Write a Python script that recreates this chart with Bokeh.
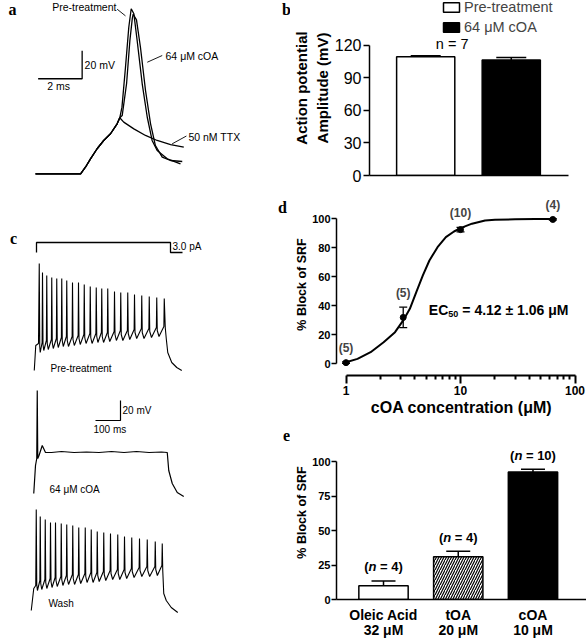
from bokeh.plotting import figure
from bokeh.models import (Range1d, Label, LabelSet, ColumnDataSource, Whisker, TeeHead,
                          FixedTicker, BasicTickFormatter, Legend, LegendItem)
from bokeh.layouts import row, column
from bokeh.embed import file_html
from bokeh.resources import INLINE
from bokeh.core.properties import value

SANS = "Liberation Sans"
SERIF = "Liberation Serif"

# ---------------------------------------------------------------- data
# (a) single action potentials: time (ms), membrane potential (mV)
ap_rise_t = [0.0, 2.05, 2.27, 2.50, 2.80, 3.10, 3.41, 3.71, 3.83]
ap_rise_v = [-65.0, -65.0, -60.3, -54.3, -47.1, -41.2, -36.4, -29.3, -25.0]
ap_pre_t = [3.93, 4.09, 4.24, 4.35, 4.47, 4.62, 4.85, 5.08, 5.30, 5.53, 5.99, 6.59]
ap_pre_v = [-17.4, 11.1, 39.7, 52.9, 49.3, 30.2, -0.7, -24.6, -41.2, -48.4, -54.3, -57.9]
ap_coa_t = [3.94, 4.14, 4.29, 4.40, 4.44, 4.59, 4.77, 5.00, 5.23, 5.45, 5.76, 6.14, 6.67]
ap_coa_v = [-23.4, -0.5, 30.2, 46.0, 49.0, 45.0, 25.4, -5.5, -29.3, -44.8, -53.1, -55.5, -56.2]
ap_ttx_t = [4.01, 4.47, 5.00, 5.53, 6.14, 6.74]
ap_ttx_v = [-28.1, -32.9, -37.6, -41.2, -44.1, -46.0]

# (b) action potential amplitude
b_groups = ["Pre-treatment", "64 μM cOA"]
b_amp = [109.5, 106.5]
b_sem = [1.0, 2.5]
b_ticks = [0, 30, 60, 90, 120]
b_n_text = "n = 7"

# (c) current step (pA) and voltage traces (mV) vs time (ms)
c_step_t = [0, 0, 536, 536, 584]
c_step_pa = [0, 3.0, 3.0, 0, 0]
c_pre_start_t = [-9, -7, -3, 8]
c_pre_start_v = [-68, -60, -43, -41]
c_pre_spike_t = [11, 24, 41, 61, 81, 101, 121, 144, 168, 191, 215, 239, 261, 285, 312,
                 337, 365, 392, 421, 451, 481, 511]
c_pre_spike_v = [39, 30, 27, 25, 24, 24, 22, 20, 20, 18, 16, 15, 14, 14, 11, 10, 10, 8,
                 7, 6, 5, 4]
c_pre_trough_v = [-50, -48, -47, -46, -45, -44, -44, -43, -42, -41, -41, -40, -40, -39,
                  -38, -38, -37, -36, -36, -35, -34]
c_pre_end_t = [515, 519, 525, 541, 561, 581]
c_pre_end_v = [-25, -36, -50, -60, -65, -68]
c_coa_t = [-11, -4, 1, 3, 5, 10, 23, 36, 60, 100, 150, 200, 250, 300, 350, 400, 450,
           500, 523, 529, 543, 563, 589]
c_coa_v = [-69, -41, -34, 34, -34, -31, -21, -28, -28, -27, -28, -27.5, -28, -27, -28,
           -27, -28, -27.5, -28, -46, -59, -68, -72]
c_wash_start_t = [-21, -11, -3]
c_wash_start_v = [-68, -46, -43]
c_wash_spike_t = [-1, 15, 35, 56, 76, 99, 121, 145, 169, 195, 219, 243, 269, 296, 325,
                  352, 381, 412, 443, 475, 503]
c_wash_spike_v = [33, 26, 23, 20, 20, 19, 18, 17, 15, 15, 13, 11, 10, 9, 8, 6, 5, 4, 3,
                  1, -1]
c_wash_trough_v = [-48, -47, -46, -45, -44, -43, -42, -42, -41, -40, -40, -39, -38, -37,
                   -37, -36, -35, -34, -34, -33]
c_wash_end_t = [505, 509, 519, 539, 565]
c_wash_end_v = [-28, -51, -58, -65, -70]

# (d) concentration-response
d_conc = [1.0, 3.16, 10.0, 64.0]
d_block = [0.8, 32.0, 92.5, 99.5]
d_sem = [0.5, 7.0, 1.5, 0.5]
d_n = ["(5)", "(5)", "(10)", "(4)"]
d_fit_conc = [1.0, 1.26, 1.64, 2.13, 2.68, 3.16, 3.61, 4.11, 4.69, 5.35, 6.30, 7.45,
              8.77, 10.0, 12.6, 16.4, 20.0, 30.0, 45.0, 64.0]
d_fit_block = [1.1, 3.4, 8.0, 14.9, 21.8, 29.9, 37.9, 49.4, 60.9, 71.2, 80.4, 87.3,
               91.2, 93.5, 96.6, 98.8, 99.3, 99.6, 99.8, 99.8]
d_xticks = [1, 10, 100]
d_xminor = [2, 3, 4, 5, 6, 7, 8, 9, 20, 30, 40, 50, 60, 70, 80, 90]
d_yticks = [0, 20, 40, 60, 80, 100]
d_ec50 = "4.12"
d_ec50_err = "1.06"

# (e) block by fatty acids
e_name = ["Oleic Acid", "tOA", "cOA"]
e_dose = ["32 μM", "20 μM", "10 μM"]
e_block = [10.0, 31.0, 92.5]
e_sem = [3.5, 4.0, 2.0]
e_n = ["4", "4", "10"]
e_yticks = [0, 25, 50, 75, 100]

# ---------------------------------------------------------------- styles
V_REST = -70
C_OFFSETS = {"step": -59, "pre": -179, "coa": -301, "wash": -419}
STEP_UNITS_PER_PA = 10 / 3
RAMP_MV = 10
AHP_FRAC = 0.3


def fig(w, h, xr, yr, axes=True, **kw):
    if not axes:
        kw.update(x_axis_type=None, y_axis_type=None)
    p = figure(width=w, height=h, x_range=xr, y_range=yr, output_backend="svg",
               toolbar_location=None, min_border=0, **kw)
    p.outline_line_color = None
    p.grid.visible = False
    return p


def label(p, x, y, text, size, style="normal", align="left", baseline="middle",
          font=SANS, xo=0, yo=0):
    p.add_layout(Label(x=x, y=y, text=text, text_font=font, text_font_size=f"{size}px",
                       text_font_style=style, text_align=align, text_baseline=baseline,
                       x_offset=xo, y_offset=yo, text_color="black"))


def style_axis(ax, tick_size, bold, lw=1.5, tick_out=5):
    ax.axis_line_width = lw
    ax.major_tick_line_width = lw
    ax.minor_tick_line_width = lw
    ax.major_tick_in = 0
    ax.major_tick_out = tick_out
    ax.minor_tick_in = 0
    ax.major_label_text_font = SANS
    ax.major_label_text_font_size = f"{tick_size}px"
    ax.major_label_text_font_style = "bold" if bold else "normal"
    ax.major_label_text_color = "black"
    ax.axis_label_text_font = SANS
    ax.axis_label_text_font_style = "bold"
    ax.axis_label_text_color = "black"


def spike_train(start_t, start_v, spk_t, spk_v, trough_v, end_t, end_v):
    t, v = list(start_t), list(start_v)
    n = len(spk_t)
    for i in range(n):
        if i > 0:
            t.append(spk_t[i] - 1.5)
            v.append(trough_v[i - 1] + RAMP_MV)
        t.append(spk_t[i])
        v.append(spk_v[i])
        if i < n - 1:
            isi = spk_t[i + 1] - spk_t[i]
            t += [spk_t[i] + 2, spk_t[i] + AHP_FRAC * isi]
            v += [trough_v[i] + 6, trough_v[i]]
    t += list(end_t)
    v += list(end_v)
    return t, v


# ---------------------------------------------------------------- panel a
pa = fig(290, 193, Range1d(-1.591, 11.59), Range1d(-79.07, 58.79), axes=False)
for tt, vv in [(ap_rise_t + ap_pre_t, ap_rise_v + ap_pre_v),
               (ap_rise_t + ap_coa_t, ap_rise_v + ap_coa_v),
               (ap_rise_t + ap_ttx_t, ap_rise_v + ap_ttx_v)]:
    pa.line(tt, vv, line_color="black", line_width=1.3)
SB_A = (2.12, 2.9)  # corner of the 2 ms / 20 mV scale bar
pa.line([SB_A[0] - 2, SB_A[0], SB_A[0]], [SB_A[1], SB_A[1], SB_A[1] + 20],
        line_color="black", line_width=1.3)
label(pa, SB_A[0] + 0.11, SB_A[1] + 9.5, "20 mV", 10.5)
label(pa, SB_A[0] - 1.59, SB_A[1] - 5.5, "2 ms", 10.5)
pa.line([3.71, 4.09], [52.6, 47.8], line_color="black", line_width=0.9)
label(pa, 3.68, 53.8, "Pre-treatment", 10.5, align="right")
pa.line([5.08, 5.76], [14.7, 19.5], line_color="black", line_width=0.9)
label(pa, 5.91, 19.5, "64 μM cOA", 10.5)
pa.line([6.21, 6.86], [-43.6, -38.0], line_color="black", line_width=0.9)
label(pa, 6.95, -38.4, "50 nM TTX", 10.5)
label(pa, -1.05, 52.4, "a", 16, style="bold", align="center", font=SERIF)
label(pa, 11.41, 52.4, "b", 16, style="bold", align="center", font=SERIF)

# ---------------------------------------------------------------- panel c
pc = fig(290, 447, Range1d(-144.0, 1016.0), Range1d(-447.0, 0), axes=False)
pc.line(c_step_t, [C_OFFSETS["step"] + i * STEP_UNITS_PER_PA for i in c_step_pa],
        line_color="black", line_width=1.3)
tp, vp = spike_train(c_pre_start_t, c_pre_start_v, c_pre_spike_t, c_pre_spike_v,
                     c_pre_trough_v, c_pre_end_t, c_pre_end_v)
pc.line(tp, [C_OFFSETS["pre"] + (x - V_REST) for x in vp], line_color="black",
        line_width=1.1)
pc.line(c_coa_t, [C_OFFSETS["coa"] + (x - V_REST) for x in c_coa_v], line_color="black",
        line_width=1.2)
tw, vw = spike_train(c_wash_start_t, c_wash_start_v, c_wash_spike_t, c_wash_spike_v,
                     c_wash_trough_v, c_wash_end_t, c_wash_end_v)
pc.line(tw, [C_OFFSETS["wash"] + (x - V_REST) for x in vw], line_color="black",
        line_width=1.1)
SB_C = (336, -227)  # corner of the 100 ms / 20 mV scale bar
pc.line([SB_C[0] - 100, SB_C[0], SB_C[0]], [SB_C[1], SB_C[1], SB_C[1] + 20],
        line_color="black", line_width=1.2)
label(pc, SB_C[0] + 8, SB_C[1] + 10, "20 mV", 10)
label(pc, SB_C[0] - 108, SB_C[1] - 9, "100 ms", 10)
label(pc, 544, -53, "3.0 pA", 10)
label(pc, 56, -175, "Pre-treatment", 10)
label(pc, 52, -296, "64 μM cOA", 10)
label(pc, 48, -410, "Wash", 10)
label(pc, -92, -45, "c", 16, style="bold", align="center", font=SERIF)
label(pc, 984, -14, "d", 16, style="bold", align="center", font=SERIF)
label(pc, 1000, -242, "e", 16, style="bold", align="center", font=SERIF)

# ---------------------------------------------------------------- panel b
pb = fig(296, 193, Range1d(0.343, 2.669), Range1d(0, 161.5),
         min_border_left=71, min_border_right=18, min_border_top=0, min_border_bottom=18)
b_x = [1, 2]
rb = pb.vbar(x=b_x, top=b_amp, width=0.68, fill_color=["white", "black"],
             line_color="black", line_width=1.5)
src_b = ColumnDataSource(dict(x=b_x, lo=b_amp, hi=[a + s for a, s in zip(b_amp, b_sem)]))
pb.add_layout(Whisker(source=src_b, base="x", lower="lo", upper="hi", line_width=1.5,
                      lower_head=None, upper_head=TeeHead(size=30, line_width=1.5)))
ya = pb.yaxis[0]
style_axis(ya, 16, False, tick_out=6)
ya.bounds = (0, 120)
ya.ticker = FixedTicker(ticks=b_ticks)
ya.major_label_standoff = 2
ya.axis_label = "Action potential\nAmplitude (mV)"
ya.axis_label_text_font_size = "15px"
ya.axis_label_standoff = 1
xa = pb.xaxis[0]
style_axis(xa, 1, False)
xa.ticker = FixedTicker(ticks=[])
xa.major_label_text_font_size = "0px"
leg = Legend(items=[LegendItem(label=b_groups[0], renderers=[rb], index=0),
                    LegendItem(label=b_groups[1], renderers=[rb], index=1)],
             location=(72, 140), glyph_width=20, glyph_height=12, label_height=12,
             spacing=4, padding=0, margin=0, label_standoff=3, border_line_color=None,
             background_fill_alpha=0, label_text_font=SANS, label_text_font_size="14.5px")
pb.add_layout(leg)
label(pb, 1.118, 121.8, b_n_text, 14.5)

# ---------------------------------------------------------------- panel d
pdd = fig(296, 232, Range1d(0.826, 126.0), Range1d(-8.07, 117.4), x_axis_type="log",
          min_border_left=46, min_border_right=0, min_border_top=0, min_border_bottom=50)
pdd.line(d_fit_conc, d_fit_block, line_color="black", line_width=2)
src_d = ColumnDataSource(dict(x=d_conc, y=d_block,
                              lo=[b - s for b, s in zip(d_block, d_sem)],
                              hi=[b + s for b, s in zip(d_block, d_sem)], n=d_n))
pdd.scatter("x", "y", source=src_d, size=6, color="black")
pdd.add_layout(Whisker(source=src_d, base="x", lower="lo", upper="hi", line_width=1.3,
                       lower_head=TeeHead(size=8, line_width=1.3),
                       upper_head=TeeHead(size=8, line_width=1.3)))
pdd.add_layout(LabelSet(source=src_d, x="x", y="hi", text="n", y_offset=14,
                        text_align="center", text_baseline="middle",
                        text_font=value(SANS), text_font_size="12px",
                        text_font_style="bold"))
xd = pdd.xaxis[0]
style_axis(xd, 12, True, lw=2, tick_out=8)
xd.bounds = (1, 100)
xd.ticker = FixedTicker(ticks=d_xticks, minor_ticks=d_xminor)
xd.minor_tick_out = 4
xd.formatter = BasicTickFormatter()
xd.major_label_standoff = 2
xd.axis_label = "cOA concentration (μM)"
xd.axis_label_text_font_size = "16px"
xd.axis_label_standoff = 1
yd = pdd.yaxis[0]
style_axis(yd, 11, True, lw=1.5, tick_out=5)
yd.bounds = (0, 100)
yd.ticker = FixedTicker(ticks=d_yticks)
yd.major_label_standoff = 1
yd.axis_label = "% Block of SRF"
yd.axis_label_text_font_size = "12.5px"
yd.axis_label_standoff = 0
label(pdd, 5.29, 36.8, "EC", 14, style="bold")
label(pdd, 5.29, 36.8, "50", 9, style="bold", xo=19.5, yo=-4)
label(pdd, 5.29, 36.8, f"= {d_ec50} ± {d_ec50_err} μM", 14, style="bold", xo=33.5)

# ---------------------------------------------------------------- panel e
pe = fig(296, 215, Range1d(0.371, 3.716), Range1d(0, 126.2),
         min_border_left=46, min_border_right=0, min_border_top=0, min_border_bottom=37)
e_x = [1, 2, 3]
pe.vbar(x=e_x, top=e_block, width=0.66, fill_color=["white", "white", "black"],
        line_color="black", line_width=1.5, hatch_pattern=[" ", "/", " "],
        hatch_color="black", hatch_scale=5, hatch_weight=1.2)
src_e = ColumnDataSource(dict(x=e_x, lo=e_block, hi=[b + s for b, s in zip(e_block, e_sem)]))
pe.add_layout(Whisker(source=src_e, base="x", lower="lo", upper="hi", line_width=1.5,
                      lower_head=None, upper_head=TeeHead(size=24, line_width=1.5)))
ye = pe.yaxis[0]
style_axis(ye, 11, True, tick_out=5)
ye.bounds = (0, 100)
ye.ticker = FixedTicker(ticks=e_yticks)
ye.major_label_standoff = 1
ye.axis_label = "% Block of SRF"
ye.axis_label_text_font_size = "12.5px"
ye.axis_label_standoff = 0
xe = pe.xaxis[0]
style_axis(xe, 14, True, lw=1.5, tick_out=0)
xe.ticker = FixedTicker(ticks=e_x)
xe.major_tick_line_color = None
xe.major_label_overrides = {x: f"{n}\n{d}" for x, n, d in zip(e_x, e_name, e_dose)}
xe.major_label_text_line_height = 0.95
xe.major_label_standoff = 7
CH = 13 * 0.333
NW = 13 * 0.611
SP = 13 * 0.278
for xi, top, nn in zip(e_x, src_e.data["hi"], e_n):
    rest = f"= {nn})"
    w_rest = 13 * (0.584 + 0.278 + 0.556 * len(nn) + 0.333)
    left = -(CH + NW + SP + w_rest) / 2
    label(pe, xi, top, "(", 13, style="bold", xo=left, yo=14)
    label(pe, xi, top, "n", 13, style="bold italic", xo=left + CH, yo=14)
    label(pe, xi, top, rest, 13, style="bold", xo=left + CH + NW + SP, yo=14)

right = column(column(pb), column(pdd), column(pe))
layout = row(column(pa, pc), right)
open("out.html", "w").write(file_html(layout, INLINE))
